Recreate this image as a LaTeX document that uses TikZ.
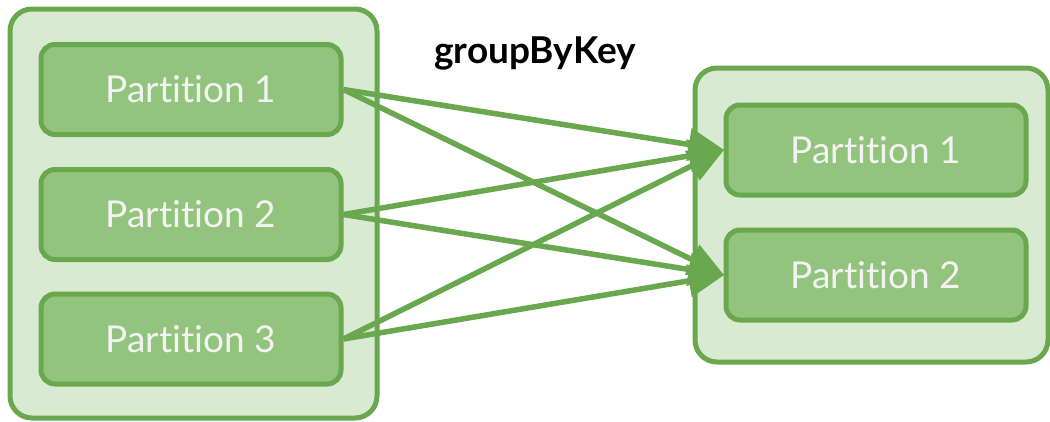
\documentclass[tikz,border=0pt]{standalone}
\usepackage{fontspec}
\setmainfont[Ligatures=NoCommon]{Lato}
\usetikzlibrary{arrows.meta}
\definecolor{gstroke}{HTML}{6AA84F}
\definecolor{gouter}{HTML}{D9EAD3}
\definecolor{ginner}{HTML}{93C47D}
\definecolor{gtext}{HTML}{F3F3F3}
\tikzset{
  outerbox/.style={draw=gstroke, fill=gouter, line width=5pt, rounded corners=22pt},
  partbox/.style={draw=gstroke, fill=ginner, line width=5pt, rounded corners=14pt,
    minimum width=300pt, minimum height=90pt, inner sep=0pt,
    text=gtext, font=\fontsize{37}{41}\selectfont},
  flow/.style={draw=gstroke, line width=5.5pt,
    -{Triangle[length=36pt, width=32pt]}, shorten >=-1pt},
}
\begin{document}
\begin{tikzpicture}[x=1pt, y=-1pt]
\useasboundingbox (0,0) rectangle (1050,421);
\draw[outerbox] (10,9) rectangle (377,418);
\draw[outerbox] (695,68) rectangle (1048,362);
\node[partbox] (l1) at (191,89.5) {Partition 1};
\node[partbox] (l2) at (191,214.5) {Partition 2};
\node[partbox] (l3) at (191,339) {Partition 3};
\node[partbox] (r1) at (876,150) {Partition 1};
\node[partbox] (r2) at (876,275) {Partition 2};
\node[font=\bfseries\fontsize{37}{41}\selectfont] (gbk) at (535,53) {groupByKey};
\foreach \s in {l1,l2,l3}{
  \draw[flow] (\s.east) -- (r1.west);
  \draw[flow] (\s.east) -- (r2.west);
}
\end{tikzpicture}
\end{document}
